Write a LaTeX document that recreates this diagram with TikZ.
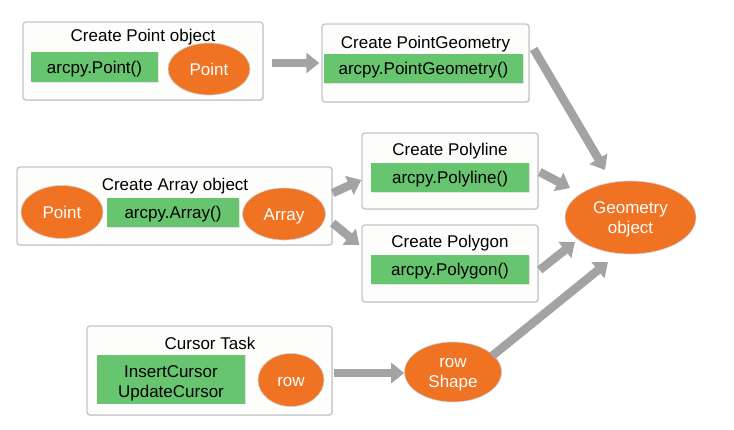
\documentclass[tikz,border=0pt]{standalone}
\usepackage{fontspec}
\setmainfont{Liberation Sans}
\usetikzlibrary{arrows.meta,calc,shadows,shapes.geometric}
\definecolor{orng}{RGB}{240,114,35}
\definecolor{grn}{RGB}{102,197,110}
\definecolor{arrgray}{RGB}{163,163,163}
\definecolor{boxfill}{RGB}{253,253,251}
\begin{document}
\begin{tikzpicture}[x=1pt,y=-1pt,
  font=\fontsize{17}{20}\selectfont,
  box/.style={draw=black!22, line width=1.4pt, fill=boxfill, rounded corners=3pt,
    inner sep=0pt, drop shadow={shadow xshift=0.8pt, shadow yshift=-0.8pt, opacity=0.25}},
  gbox/.style={fill=grn, inner sep=0pt, align=center,
    drop shadow={shadow xshift=0.6pt, shadow yshift=-0.6pt, opacity=0.2}},
  one/.style={text height=12pt, text depth=0pt},
  ell/.style={ellipse, fill=orng, draw=black!18, line width=0.6pt, text=white,
    inner sep=0pt, align=center},
  ttl/.style={anchor=base, inner sep=0pt},
  arr/.style={draw=arrgray, line width=8.5pt, -{Triangle[length=13pt,width=20pt]}}
]
\useasboundingbox (0,0) rectangle (734,429);
\fill[white] (0,0) rectangle (734,429);

% Create Point object
\node[box, minimum width=240pt, minimum height=78pt] (b1) at (143,61) {};
\node[ttl] (t1) at (143,41) {Create Point object};
\node[gbox, one, minimum width=127pt, minimum height=30pt] (g1) at (94.5,67) {arcpy.Point()};
\node[ell, one, minimum width=82pt, minimum height=52pt] (p1) at (209,69) {Point};

% Create PointGeometry
\node[box, minimum width=207pt, minimum height=78pt] (b2) at (425.5,63) {};
\node[ttl] (t2) at (425.5,48) {Create PointGeometry};
\node[gbox, one, minimum width=199pt, minimum height=29pt] (g2) at (423.5,68.5) {arcpy.PointGeometry()};

% Create Array object
\node[box, minimum width=315pt, minimum height=78pt] (b3) at (174.5,206) {};
\node[ttl] (t3) at (175,190) {Create Array object};
\node[ell, one, minimum width=82pt, minimum height=53pt] (p2) at (62,212) {Point};
\node[gbox, one, minimum width=132pt, minimum height=29pt] (g3) at (173,212.5) {arcpy.Array()};
\node[ell, one, minimum width=83pt, minimum height=52pt] (a1) at (284,214) {Array};

% Create Polyline
\node[box, minimum width=176pt, minimum height=76pt] (b4) at (450,171) {};
\node[ttl] (t4) at (450,155) {Create Polyline};
\node[gbox, one, minimum width=158pt, minimum height=29pt] (g4) at (450,177.5) {arcpy.Polyline()};

% Create Polygon
\node[box, minimum width=176pt, minimum height=77pt] (b5) at (450,263.5) {};
\node[ttl] (t5) at (450,247) {Create Polygon};
\node[gbox, one, minimum width=158pt, minimum height=29pt] (g5) at (450,269.5) {arcpy.Polygon()};

% Cursor Task
\node[box, minimum width=245pt, minimum height=89pt] (b6) at (209.5,370.5) {};
\node[ttl] (t6) at (210,349) {Cursor Task};
\node[gbox, text height=39.6pt, text depth=3.6pt, minimum width=148pt, minimum height=49pt] (g6) at (171,379) {InsertCursor\\UpdateCursor};
\node[ell, one, minimum width=66pt, minimum height=53pt] (r1) at (291,380) {row};

% row Shape
\node[ell, text height=33.6pt, text depth=3.6pt, minimum width=97pt, minimum height=60pt] (rs) at (453,372) {row\\Shape};

% Geometry object
\node[ell, text height=34.6pt, text depth=3.6pt, minimum width=131pt, minimum height=73pt] (geo) at (630.5,217.5) {Geometry\\object};

% Arrows
\draw[arr] ($(b1.east)+(8,2)$) -- ($(b2.west)+(-2,0)$);
\draw[arr] ($(b3.east)+(0,-13)$) -- ($(b4.west)+(0,9)$);
\draw[arr] ($(b3.east)+(0,17)$) -- ($(b5.west)+(-2,-18.5)$);
\draw[arr] ($(b2.east)+(4,-14)$) -- ($(geo.center)+(-25.5,-47.5)$);
\draw[arr] ($(b4.east)+(1,1)$) -- ($(geo.center)+(-60.5,-29.5)$);
\draw[arr] ($(b5.east)+(1,6.5)$) -- ($(geo.center)+(-55.5,24.5)$);
\draw[arr] ($(rs.center)+(39,-16)$) -- ($(geo.center)+(-22.5,44.5)$);
\draw[arr] ($(b6.east)+(1,2.5)$) -- ($(rs.west)+(0,1)$);
\end{tikzpicture}
\end{document}
